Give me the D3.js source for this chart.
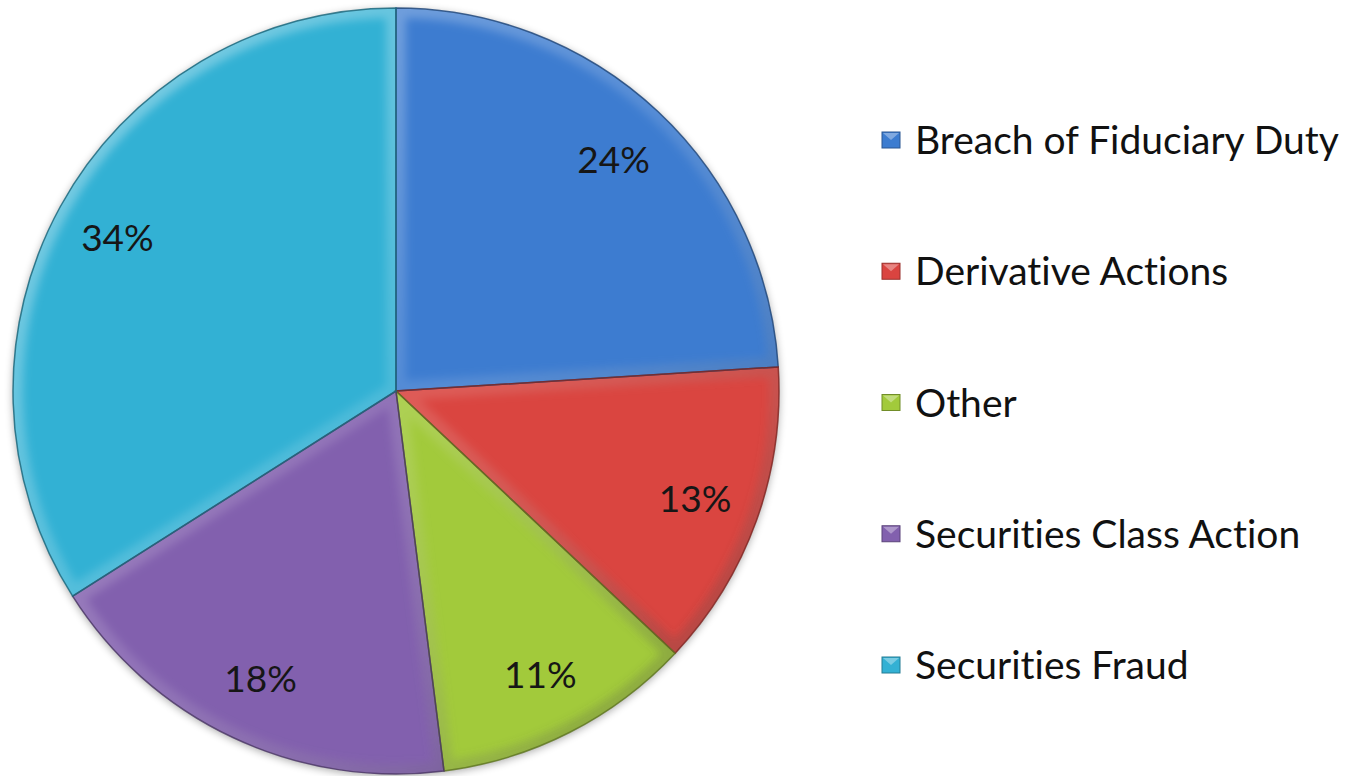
<!DOCTYPE html>
<html>
<head>
<meta charset="utf-8">
<script src="https://cdn.jsdelivr.net/npm/d3@7"></script>
<style>
  html, body { margin: 0; padding: 0; background: #fff; }
  svg { display: block; }
  text { font-family: Lato, "Open Sans", sans-serif; fill: #111; font-variant-ligatures: none; }
</style>
</head>
<body>
<div id="chart"></div>
<script>
// chart data
var categories = ["Breach of Fiduciary Duty", "Derivative Actions", "Other",
                  "Securities Class Action", "Securities Fraud"];
var shares = [24, 13, 11, 18, 34];
var colours = ["#3c7cd0", "#da4440", "#a2ca3b", "#8260ae", "#33b1d4"];

var width = 1352, height = 776;
var cx = 396, cy = 391, radius = 383;

var svg = d3.select("#chart").append("svg")
  .attr("width", width)
  .attr("height", height);

var defs = svg.append("defs");

// soft shadow round the whole pie
var shadow = defs.append("filter").attr("id", "shadow")
  .attr("x", "-10%").attr("y", "-10%").attr("width", "120%").attr("height", "120%");
shadow.append("feGaussianBlur").attr("in", "SourceAlpha").attr("stdDeviation", 4);
shadow.append("feOffset").attr("dx", 0).attr("dy", 2).attr("result", "blur");
shadow.append("feComponentTransfer").append("feFuncA").attr("type", "linear").attr("slope", 0.35);
var merge = shadow.append("feMerge");
merge.append("feMergeNode");
merge.append("feMergeNode").attr("in", "SourceGraphic");

defs.append("filter").attr("id", "soft")
  .append("feGaussianBlur").attr("stdDeviation", 4);

// light from top left, dark to bottom right: used for the bevel
var bevel = defs.append("linearGradient").attr("id", "bevel")
  .attr("gradientUnits", "userSpaceOnUse")
  .attr("x1", -radius).attr("y1", -radius)
  .attr("x2", radius).attr("y2", radius);
bevel.append("stop").attr("offset", "0%").attr("stop-color", "#fff").attr("stop-opacity", 0.4);
bevel.append("stop").attr("offset", "50%").attr("stop-color", "#fff").attr("stop-opacity", 0.12);
bevel.append("stop").attr("offset", "100%").attr("stop-color", "#000").attr("stop-opacity", 0.3);

var pie = d3.pie().sort(null).value(function(d) { return d; });
var arcs = pie(shares);

var arc = d3.arc().innerRadius(0).outerRadius(radius);
var labelArc = d3.arc().innerRadius(radius * 0.83).outerRadius(radius * 0.83);

var g = svg.append("g")
  .attr("transform", "translate(" + cx + "," + cy + ")");

// clip paths, one per slice, so the bevel stays inside it
defs.selectAll("clipPath.slice")
  .data(arcs)
  .enter().append("clipPath")
  .attr("class", "slice")
  .attr("id", function(d, i) { return "clip" + i; })
  .append("path")
  .attr("d", arc);

var slices = g.append("g").attr("filter", "url(#shadow)");

slices.selectAll("path.slice")
  .data(arcs)
  .enter().append("path")
  .attr("class", "slice")
  .attr("d", arc)
  .attr("fill", function(d, i) { return colours[i]; });

// bevel overlay
g.append("g").selectAll("g")
  .data(arcs)
  .enter().append("g")
  .attr("clip-path", function(d, i) { return "url(#clip" + i + ")"; })
  .append("path")
  .attr("d", arc)
  .attr("fill", "none")
  .attr("stroke", "url(#bevel)")
  .attr("stroke-width", 20)
  .attr("filter", "url(#soft)");

// thin dark edges
g.selectAll("path.edge")
  .data(arcs)
  .enter().append("path")
  .attr("class", "edge")
  .attr("d", arc)
  .attr("fill", "none")
  .attr("stroke", function(d, i) { return d3.color(colours[i]).darker(1.5); })
  .attr("stroke-opacity", 0.85)
  .attr("stroke-width", 1.5);

// percentage labels
g.selectAll("text.pct")
  .data(arcs)
  .enter().append("text")
  .attr("class", "pct")
  .attr("transform", function(d) { return "translate(" + labelArc.centroid(d) + ")"; })
  .attr("text-anchor", "middle")
  .attr("dy", "0.36em")
  .style("font-size", "37px")
  .style("fill", "#161616")
  .text(function(d) { return d.data + "%"; });

// legend
var legendY = d3.scalePoint()
  .domain(categories)
  .range([140, 665]);

var legend = svg.append("g").attr("class", "legend")
  .selectAll("g")
  .data(categories)
  .enter().append("g")
  .attr("transform", function(d) { return "translate(882," + legendY(d) + ")"; });

legend.append("rect")
  .attr("x", 0).attr("y", -8)
  .attr("width", 18).attr("height", 16)
  .attr("fill", function(d, i) { return colours[i]; })
  .attr("stroke", function(d, i) { return d3.color(colours[i]).darker(1); })
  .attr("stroke-width", 1);

legend.append("path")
  .attr("d", "M1,-7 L17,-7 L9,0 Z")
  .attr("fill", "#fff")
  .attr("fill-opacity", 0.35);

legend.append("text")
  .attr("x", 33)
  .attr("dy", "0.36em")
  .style("font-size", "39px")
  .text(function(d) { return d; });
</script>
</body>
</html>
